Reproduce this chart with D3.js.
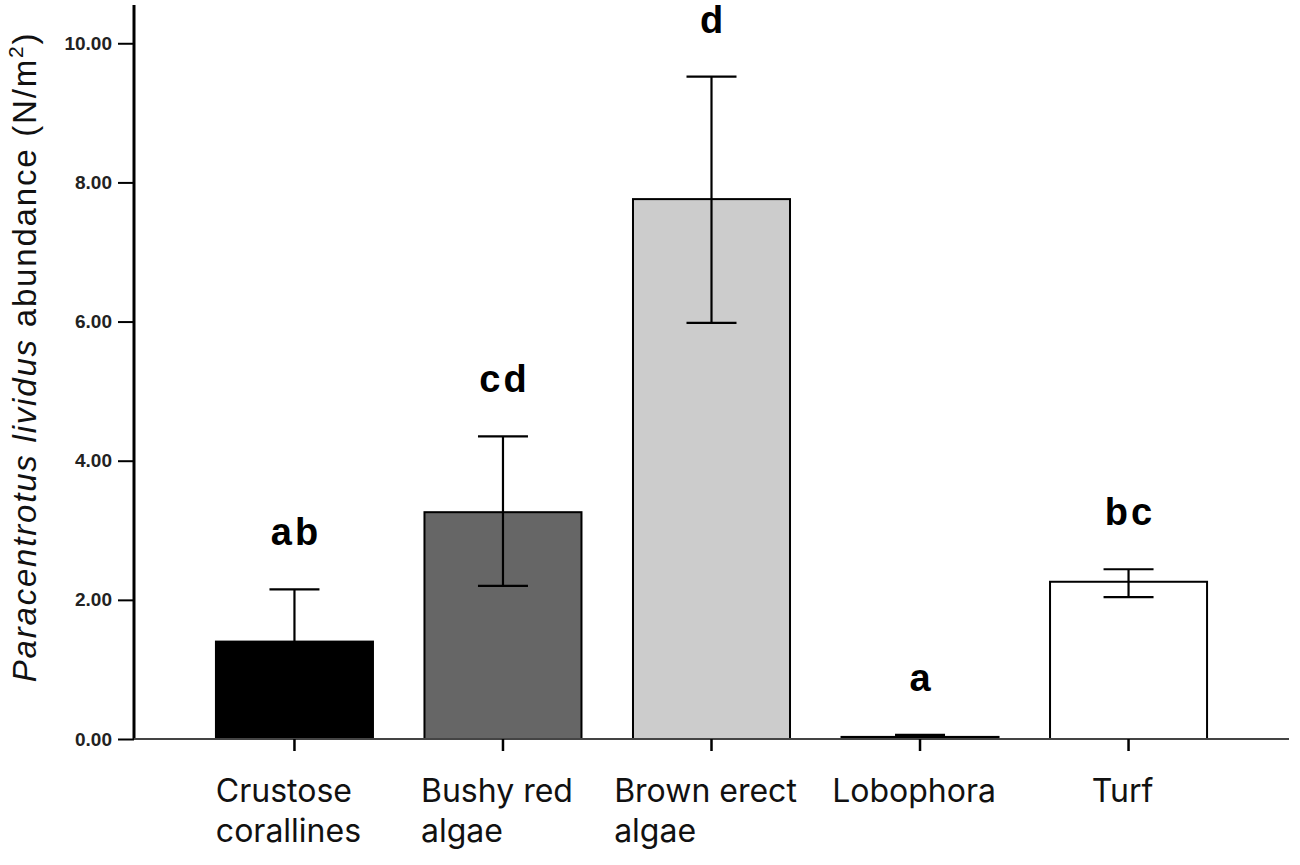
<!DOCTYPE html>
<html>
<head>
<meta charset="utf-8">
<script src="https://cdnjs.cloudflare.com/ajax/libs/d3/7.8.5/d3.min.js"></script>
<style>
	body { margin: 0; background: #fff; }
	svg { display: block; }
</style>
</head>
<body>
<svg id="chart" width="1300" height="865"></svg>
<script>
// values
const categories = [['Crustose', 'corallines'], ['Bushy red', 'algae'], ['Brown erect', 'algae'], ['Lobophora'], ['Turf']];
const means = [1.40, 3.26, 7.76, 0.03, 2.26];
const errLow = [1.40, 2.20, 5.98, 0.03, 2.04];
const errHigh = [2.15, 4.35, 9.52, 0.06, 2.44];
const letters = ['ab', 'cd', 'd', 'a', 'bc'];
const fills = ['#000000', '#666666', '#cccccc', '#000000', '#ffffff'];
const yTicks = [0, 2, 4, 6, 8, 10];

const svg = d3.select('#chart');
const mLeft = 134, mRight = 1289, mBottom = 739, mTop = 5;

const keys = categories.map(c => c.join(' '));
const x = d3.scaleBand().domain(keys).range([mLeft, mRight]).paddingInner(0.247).paddingOuter(0.393);
const y = d3.scaleLinear().domain([0, 10.55]).range([mBottom, mTop]);

// bars
svg.selectAll('rect.bar').data(means).enter()
	.append('rect')
	.attr('class', 'bar')
	.attr('x', (d, i) => x(keys[i]))
	.attr('y', d => y(d))
	.attr('width', x.bandwidth())
	.attr('height', d => y(0) - y(d))
	.attr('fill', (d, i) => fills[i])
	.attr('stroke', '#000')
	.attr('stroke-width', 2);

// error bars
const cx = i => x(keys[i]) + x.bandwidth() / 2;
const capW = 25;
const eb = svg.append('g').attr('stroke', '#000').attr('stroke-width', 2.2);
means.forEach((m, i) => {
	eb.append('line').attr('x1', cx(i)).attr('x2', cx(i)).attr('y1', y(errLow[i])).attr('y2', y(errHigh[i]));
	eb.append('line').attr('x1', cx(i) - capW).attr('x2', cx(i) + capW).attr('y1', y(errHigh[i])).attr('y2', y(errHigh[i]));
	if (errLow[i] < m) {
		eb.append('line').attr('x1', cx(i) - capW).attr('x2', cx(i) + capW).attr('y1', y(errLow[i])).attr('y2', y(errLow[i]));
	}
});

// significance letters
svg.selectAll('text.sig').data(letters).enter()
	.append('text')
	.attr('class', 'sig')
	.attr('x', (d, i) => cx(i) + 1.5)
	.attr('y', (d, i) => y(errHigh[i]) - 44)
	.attr('text-anchor', 'middle')
	.style('font-family', 'Liberation Sans, Arial, sans-serif')
	.style('font-weight', 'bold')
	.style('font-size', '38px')
	.style('letter-spacing', '3px')
	.text(d => d);

// y axis
const yAxis = d3.axisLeft(y).tickValues(yTicks).tickFormat(d3.format('.2f')).tickSize(16).tickPadding(6);
const gy = svg.append('g').attr('transform', `translate(${mLeft},0)`).call(yAxis);
gy.select('.domain').attr('d', `M0,${mBottom}V${mTop}`).attr('stroke-width', 3);
gy.selectAll('.tick line').attr('stroke-width', 2);
gy.selectAll('.tick text')
	.style('font-family', 'Liberation Sans, Arial, sans-serif')
	.style('font-size', '19px')
	.style('font-weight', 'bold')
	.attr('fill', '#222');

// x axis
const xAxis = d3.axisBottom(x).tickSize(12).tickFormat('');
const gx = svg.append('g').attr('transform', `translate(0,${mBottom})`).call(xAxis);
gx.select('.domain').attr('d', `M${mLeft},0H${mRight}`).attr('stroke-width', 2).attr('stroke', '#444');
gx.selectAll('.tick line').attr('stroke-width', 2.5);

// category labels, left aligned block centred under the tick
categories.forEach((lines, i) => {
	const t = svg.append('text')
		.style('font-family', 'Inter, Noto Sans, sans-serif')
		.style('font-size', '32px')
		.attr('fill', '#111');
	lines.forEach((ln, j) => {
		t.append('tspan').attr('y', 802 + j * 40).text(ln);
	});
	let w = 0;
	t.selectAll('tspan').each(function() { w = Math.max(w, this.getComputedTextLength()); });
	t.selectAll('tspan').attr('x', cx(i) - w / 2 - 6);
});

// y title
const yt = svg.append('text')
	.attr('transform', 'translate(36,357) rotate(-90)')
	.attr('text-anchor', 'middle')
	.style('font-family', 'Liberation Sans, Arial, sans-serif')
	.style('font-size', '33px')
	.style('letter-spacing', '1.8px')
	.attr('fill', '#111');
yt.append('tspan').style('font-style', 'italic').text('Paracentrotus lividus');
yt.append('tspan').text(' abundance (N/m');
yt.append('tspan').attr('dy', -13).style('font-size', '21px').text('2');
yt.append('tspan').attr('dy', 13).text(')');
</script>
</body>
</html>
